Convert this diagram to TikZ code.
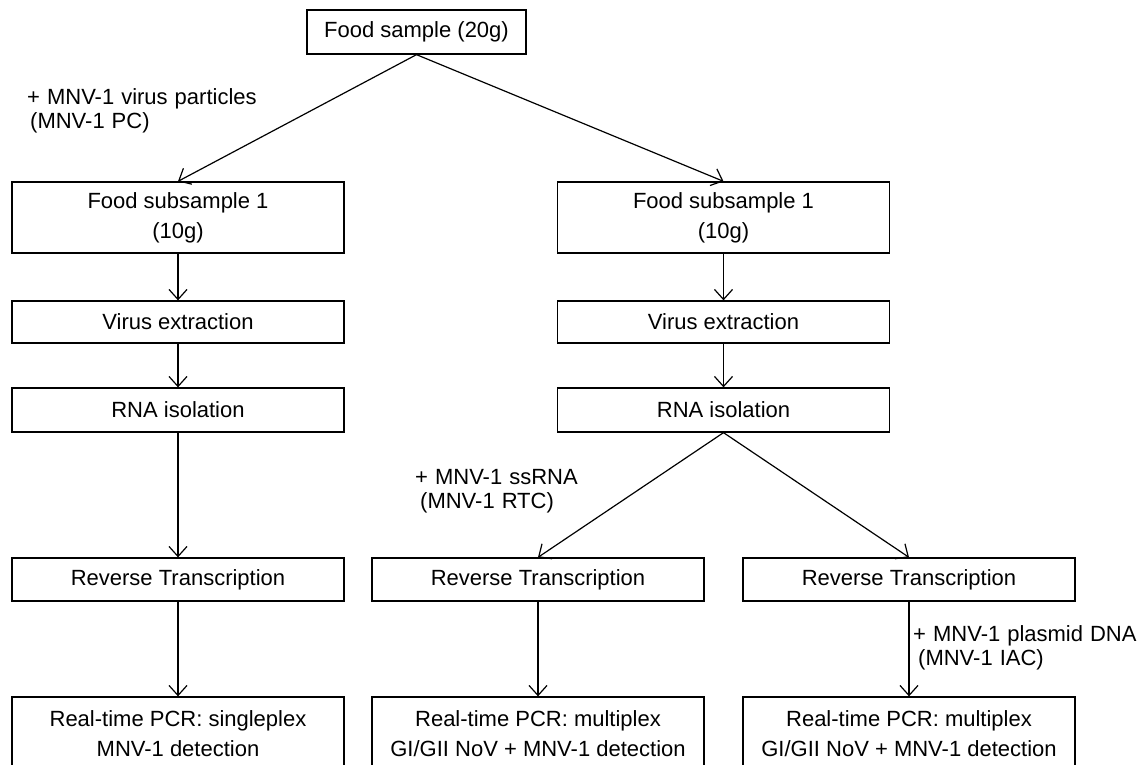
\documentclass[tikz,border=0pt]{standalone}
\usepackage{fontspec}
\setmainfont{Liberation Sans}
\usetikzlibrary{arrows.meta}
\newcommand\widewords{\spaceskip=7pt\relax}
\begin{document}
\begin{tikzpicture}[x=1pt,y=-1pt,
  every node/.style={font=\fontsize{22}{30}\selectfont, inner sep=0pt},
  box/.style={draw, line width=1.3pt, minimum width=332pt, align=center},
  lbl/.style={font=\fontsize{22}{24}\selectfont\widewords, align=left, anchor=west},
  arr/.style={line width=1.2pt, -{Straight Barb[length=10pt,width=18pt,line width=1.2pt]}}]
\useasboundingbox (0,0) rectangle (1143,765);
\clip (0,0) rectangle (1143,765);
% top
\node[box, minimum width=219pt, minimum height=44pt] (top) at (416.5,32) {Food sample (20g)};
% left column
\node[box, minimum height=71pt] (ls) at (178,217.5) {Food subsample 1\\(10g)};
\node[box, minimum height=42pt] (lv) at (178,322) {Virus extraction};
\node[box, minimum height=44pt] (lr) at (178,410) {RNA isolation};
\node[box, minimum height=43pt] (lt) at (178,579.5) {Reverse Transcription};
\node[box, minimum height=74pt] (lp) at (178,734) {Real-time PCR: singleplex\\MNV-1 detection};
% right column
\node[box, minimum height=71pt] (rs) at (723.5,217.5) {Food subsample 1\\(10g)};
\node[box, minimum height=42pt] (rv) at (723.5,322) {Virus extraction};
\node[box, minimum height=44pt] (rr) at (723.5,410) {RNA isolation};
\node[box, minimum height=43pt] (mt) at (538,579.5) {Reverse Transcription};
\node[box, minimum height=74pt] (mp) at (538,734) {Real-time PCR: multiplex\\GI/GII NoV + MNV-1 detection};
\node[box, minimum height=43pt] (rt) at (909,579.5) {Reverse Transcription};
\node[box, minimum height=74pt] (rp) at (909,734) {Real-time PCR: multiplex\\GI/GII NoV + MNV-1 detection};
% arrows
\draw[arr] (top.south) -- (ls.north);
\draw[arr] (top.south) -- (rs.north);
\draw[arr] (ls) -- (lv);
\draw[arr] (lv) -- (lr);
\draw[arr] (lr) -- (lt);
\draw[arr] (lt) -- (lp);
\draw[arr] (rs) -- (rv);
\draw[arr] (rv) -- (rr);
\draw[arr] (rr.south) -- (mt.north);
\draw[arr] (rr.south) -- (rt.north);
\draw[arr] (mt) -- (mp);
\draw[arr] (rt) -- (rp);
% labels
\node[lbl] (l1) at (27,111) {+ MNV-1 virus particles\\\hspace{3pt}(MNV-1 PC)};
\node[lbl] (l2) at (415,491) {+ MNV-1 ssRNA\\\hspace{5pt}(MNV-1 RTC)};
\node[lbl] (l3) at (913,648) {+ MNV-1 plasmid DNA\\\hspace{5pt}(MNV-1 IAC)};
\end{tikzpicture}
\end{document}
